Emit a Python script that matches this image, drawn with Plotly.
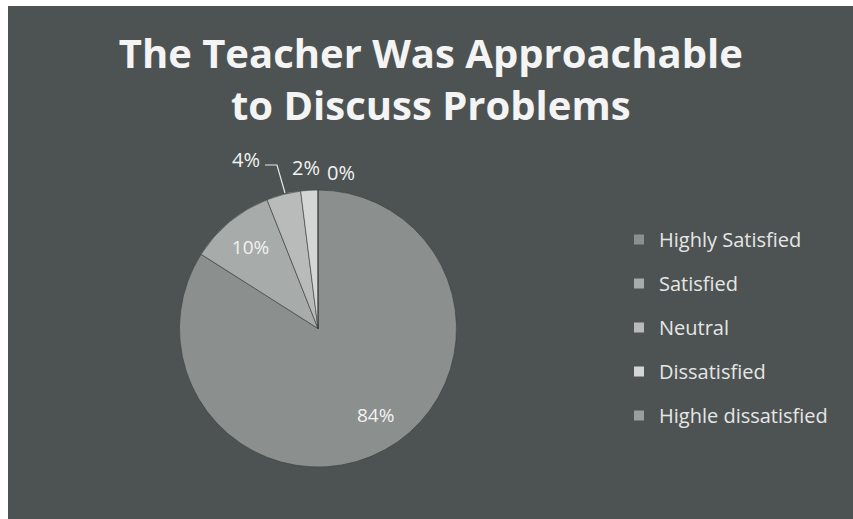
import plotly.graph_objects as go

labels = ["Highly Satisfied", "Satisfied", "Neutral", "Dissatisfied", "Highle dissatisfied"]
values = [84, 10, 4, 2, 0]
colors = ["#8b908f", "#a7abaa", "#b8bbba", "#d4d6d6", "#9a9e9d"]
title_text = "The Teacher Was Approachable<br>to Discuss Problems"

W, H = 853, 519
BG = "#4d5352"
total = sum(values)
pct = [f"{round(100 * v / total)}%" for v in values]

fig = go.Figure()

fig.add_trace(go.Pie(
    labels=labels, values=values, sort=False, direction="clockwise", rotation=0,
    marker=dict(colors=colors, line=dict(color="#3a3f3e", width=0.6)),
    text=pct, texttemplate=["", "%{text}", "", "", ""],
    textposition="inside",
    insidetextorientation="horizontal",
    textfont=dict(family="Open Sans", size=19, color="#f2f2f2"),
    showlegend=False,
    domain=dict(x=[179 / W, 457 / W], y=[1 - 467 / H, 1 - 190 / H]),
    hoverinfo="label+percent",
))

# legend entries (one group each so spacing can match)
for lab, col in zip(labels, colors):
    fig.add_trace(go.Scatter(
        x=[None], y=[None], mode="markers", name=lab, legendgroup=lab,
        marker=dict(symbol="square", size=10, color=col),
    ))

# labels placed like the original (84% low inside, small slices outside)
lab_pos = {0: (375, 415), 2: (246, 160), 3: (306, 167), 4: (341, 172)}
annotations = []
for i, (px, py) in lab_pos.items():
    annotations.append(dict(text=pct[i], x=px / W, y=1 - py / H, xref="paper", yref="paper",
                            showarrow=False, xanchor="center", yanchor="middle",
                            font=dict(family="Open Sans", size=20 if i else 19, color="#f2f2f2")))

fig.update_layout(
    width=W, height=H,
    margin=dict(l=0, r=0, t=0, b=0),
    paper_bgcolor=BG,
    plot_bgcolor="rgba(0,0,0,0)",
    xaxis=dict(visible=False), yaxis=dict(visible=False),
    title=dict(text=title_text, x=0.505, xanchor="center", y=1 - 68 / H, yanchor="middle",
               font=dict(family="Open Sans", size=40, color="#f4f4f4", weight="bold")),
    legend=dict(x=619 / W, y=1 - 220 / H, xanchor="left", yanchor="top",
                font=dict(family="Open Sans", size=20, color="#e6e6e6"),
                tracegroupgap=15, itemwidth=30, bgcolor="rgba(0,0,0,0)"),
    annotations=annotations,
    shapes=[
        # white scan borders (top and left)
        dict(type="rect", xref="paper", yref="paper", x0=0, x1=1, y0=1 - 6 / H, y1=1,
             fillcolor="white", line=dict(width=0), layer="below"),
        dict(type="rect", xref="paper", yref="paper", x0=0, x1=8 / W, y0=0, y1=1,
             fillcolor="white", line=dict(width=0), layer="below"),
        dict(type="path", xref="paper", yref="paper",
             path=f"M {265 / W} {1 - 165 / H} L {277 / W} {1 - 165 / H} L {285 / W} {1 - 193 / H}",
             line=dict(color="#e8e8e8", width=1.2)),
    ],
)

fig.write_html("out.html", config={"displayModeBar": False},
               post_script=f"document.body.style.margin='0';document.body.style.background='{BG}';"
                           "document.documentElement.style.background='" + BG + "';")
